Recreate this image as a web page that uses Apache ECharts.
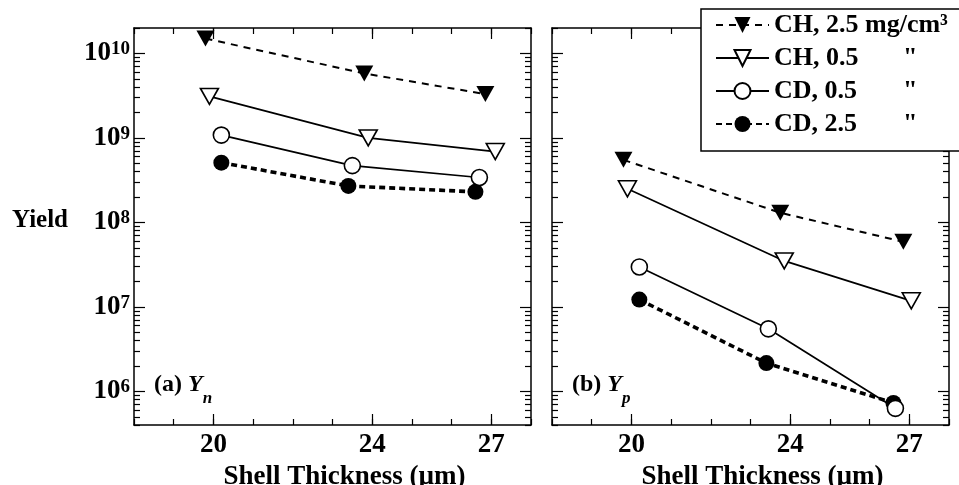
<!DOCTYPE html>
<html>
<head>
<meta charset="utf-8">
<script src="https://cdn.jsdelivr.net/npm/echarts@6/dist/echarts.min.js"></script>
<style>html,body{margin:0;padding:0;background:#fff}#c{width:959px;height:485px}</style>
</head>
<body>
<div id="c"></div>
<script>
// ---- data ----
const legendNames = ['CH, 2.5 mg/cm³', 'CH, 0.5', 'CD, 0.5', 'CD, 2.5'];
const xTicksMajor = [20, 24, 27];
const yTicksMajor = [1e6, 1e7, 1e8, 1e9, 1e10];
const xAxisTitle = 'Shell Thickness (µm)';
const yAxisTitle = 'Yield';

// panel (a) Y_n
const ynCH25x = [19.8, 23.8, 26.85];  const ynCH25 = [1.5e10, 5.8e9, 3.3e9];
const ynCH05x = [19.9, 23.9, 27.1];   const ynCH05 = [3.1e9, 1.0e9, 6.9e8];
const ynCD05x = [20.2, 23.5, 26.7];   const ynCD05 = [1.08e9, 4.7e8, 3.4e8];
const ynCD25x = [20.2, 23.4, 26.6];   const ynCD25 = [5.1e8, 2.7e8, 2.3e8];
// panel (b) Y_p
const ypCH25x = [19.8, 23.75, 26.85]; const ypCH25 = [5.5e8, 1.3e8, 5.9e7];
const ypCH05x = [19.9, 23.85, 27.05]; const ypCH05 = [2.5e8, 3.5e7, 1.18e7];
const ypCD05x = [20.2, 23.45, 26.65]; const ypCD05 = [2.97e7, 5.5e6, 6.3e5];
const ypCD25x = [20.2, 23.4, 26.6];   const ypCD25 = [1.22e7, 2.16e6, 7.3e5];

// ---- styling ----
const FONT = '"Liberation Serif", "Times New Roman", serif';
const yTicksMinor = [];
for (let n = 5; n <= 10; n++) for (let k = 2; k <= 9; k++) {
  const v = k * Math.pow(10, n);
  if (v >= 4e5 && v <= 2e10) yTicksMinor.push(v);
}
const tri = 'path://M0,0L20,0L10,18Z';
const styles = {
  'CH, 2.5 mg/cm³': {symbol: tri, symbolSize: [18, 16], itemStyle: {color: '#000'}, lineStyle: {color: '#000', width: 2, type: [7, 6]}},
  'CH, 0.5': {symbol: tri, symbolSize: [18, 16], itemStyle: {color: '#fff', borderColor: '#000', borderWidth: 1.6}, lineStyle: {color: '#000', width: 1.7, type: 'solid'}},
  'CD, 0.5': {symbol: 'circle', symbolSize: 16, itemStyle: {color: '#fff', borderColor: '#000', borderWidth: 1.6}, lineStyle: {color: '#000', width: 1.7, type: 'solid'}},
  'CD, 2.5': {symbol: 'circle', symbolSize: 16, itemStyle: {color: '#000'}, lineStyle: {color: '#000', width: 3.6, type: [6, 4]}}
};
const lineC = {color: '#000', width: 1.5};
const tickC = {color: '#000', width: 1.2};

function xAxes(g) {
  const base = {type: 'value', gridIndex: g, min: 18, max: 28, splitLine: {show: false},
    axisLine: {onZero: false, lineStyle: lineC}};
  return [
    Object.assign({}, base, {position: 'bottom', interval: 1,
      axisTick: {inside: true, length: 6, lineStyle: tickC},
      axisLabel: {customValues: xTicksMajor, margin: 7, color: '#000', fontFamily: FONT, fontWeight: 'bold', fontSize: 27},
      name: xAxisTitle, nameLocation: 'middle', nameGap: 27,
      nameTextStyle: {color: '#000', fontFamily: FONT, fontWeight: 'bold', fontSize: 27, padding: [0, 0, 0, 24]}}),
    Object.assign({}, base, {position: 'bottom', axisLine: {show: false, onZero: false},
      axisTick: {inside: true, length: 11, customValues: xTicksMajor, lineStyle: tickC}, axisLabel: {show: false}}),
    Object.assign({}, base, {position: 'top', interval: 1,
      axisTick: {inside: true, length: 6, lineStyle: tickC}, axisLabel: {show: false}}),
    Object.assign({}, base, {position: 'top', axisLine: {show: false, onZero: false},
      axisTick: {inside: true, length: 11, customValues: xTicksMajor, lineStyle: tickC}, axisLabel: {show: false}})
  ];
}
function yAxes(g, showLabels) {
  const base = {type: 'log', logBase: 10, gridIndex: g, min: 4e5, max: 2e10, splitLine: {show: false},
    axisLine: {onZero: false, lineStyle: lineC}};
  return [
    Object.assign({}, base, {position: 'left',
      axisTick: {inside: true, length: 6, customValues: yTicksMinor, lineStyle: tickC},
      axisLabel: {show: showLabels, customValues: yTicksMajor, margin: 4,
        formatter: v => '{b|10}{s|' + Math.round(Math.log10(v)) + '}',
        rich: {
          b: {fontSize: 27, fontWeight: 'bold', fontFamily: FONT, color: '#000'},
          s: {fontSize: 19, fontWeight: 'bold', fontFamily: FONT, color: '#000', verticalAlign: 'top', lineHeight: 10}
        }}}),
    Object.assign({}, base, {position: 'left', axisLine: {show: false, onZero: false},
      axisTick: {inside: true, length: 11, customValues: yTicksMajor, lineStyle: tickC}, axisLabel: {show: false}}),
    Object.assign({}, base, {position: 'right',
      axisTick: {inside: true, length: 6, customValues: yTicksMinor, lineStyle: tickC}, axisLabel: {show: false}}),
    Object.assign({}, base, {position: 'right', axisLine: {show: false, onZero: false},
      axisTick: {inside: true, length: 11, customValues: yTicksMajor, lineStyle: tickC}, axisLabel: {show: false}})
  ];
}
function mk(name, xs, ys, g) {
  const s = styles[name];
  return {
    type: 'line', name: name, xAxisIndex: g * 4, yAxisIndex: g * 4,
    data: xs.map((x, i) => [x, ys[i]]),
    symbol: s.symbol, symbolSize: s.symbolSize, symbolKeepAspect: false,
    itemStyle: s.itemStyle, lineStyle: s.lineStyle,
    emphasis: {disabled: true}, z: 3
  };
}
const series = [
  mk(legendNames[0], ynCH25x, ynCH25, 0),
  mk(legendNames[1], ynCH05x, ynCH05, 0),
  mk(legendNames[3], ynCD25x, ynCD25, 0),
  mk(legendNames[2], ynCD05x, ynCD05, 0),
  mk(legendNames[0], ypCH25x, ypCH25, 1),
  mk(legendNames[1], ypCH05x, ypCH05, 1),
  mk(legendNames[3], ypCD25x, ypCD25, 1),
  mk(legendNames[2], ypCD05x, ypCD05, 1)
];

const chart = echarts.init(document.getElementById('c'), null, {renderer: 'canvas'});
chart.setOption({
  animation: false,
  backgroundColor: '#fff',
  grid: [
    {left: 134, top: 28, width: 397, height: 397, outerBoundsMode: 'none'},
    {left: 552, top: 28, width: 397, height: 397, outerBoundsMode: 'none'}
  ],
  xAxis: xAxes(0).concat(xAxes(1)),
  yAxis: yAxes(0, true).concat(yAxes(1, false)),
  legend: {
    data: legendNames, orient: 'vertical', left: 701, top: 9,
    itemWidth: 53, itemHeight: 20, itemGap: 7,
    padding: [3, 40, 14, 14],
    borderColor: '#000', borderWidth: 1.5, backgroundColor: '#fff',
    selectedMode: false, z: 10,
    formatter: n => n === legendNames[0] ? '{a|' + n + '}' : '{a|' + n + '}{q|"}',
    textStyle: {color: '#000', fontFamily: FONT, fontWeight: 'bold', fontSize: 26,
      rich: {
        a: {color: '#000', fontFamily: FONT, fontWeight: 'bold', fontSize: 26, width: 129},
        q: {color: '#000', fontFamily: FONT, fontWeight: 'bold', fontSize: 26}
      }}
  },
  graphic: [
    {type: 'text', left: 12, top: 208, style: {text: yAxisTitle, fill: '#000', font: 'bold 25px ' + FONT}},
    {type: 'text', left: 154, top: 373, style: {
      text: '{p|(a) }{y|Y}{s|n}',
      rich: {
        p: {fontSize: 24, fontWeight: 'bold', fontFamily: FONT, fill: '#000', verticalAlign: 'top'},
        y: {fontSize: 24, fontWeight: 'bold', fontStyle: 'italic', fontFamily: FONT, fill: '#000', verticalAlign: 'top'},
        s: {fontSize: 17, fontWeight: 'bold', fontStyle: 'italic', fontFamily: FONT, fill: '#000', verticalAlign: 'bottom', padding: [17, 0, 0, 0]}
      }}},
    {type: 'text', left: 572, top: 373, style: {
      text: '{p|(b) }{y|Y}{s|p}',
      rich: {
        p: {fontSize: 24, fontWeight: 'bold', fontFamily: FONT, fill: '#000', verticalAlign: 'top'},
        y: {fontSize: 24, fontWeight: 'bold', fontStyle: 'italic', fontFamily: FONT, fill: '#000', verticalAlign: 'top'},
        s: {fontSize: 17, fontWeight: 'bold', fontStyle: 'italic', fontFamily: FONT, fill: '#000', verticalAlign: 'bottom', padding: [17, 0, 0, 0]}
      }}}
  ],
  series: series
});
</script>
</body>
</html>
